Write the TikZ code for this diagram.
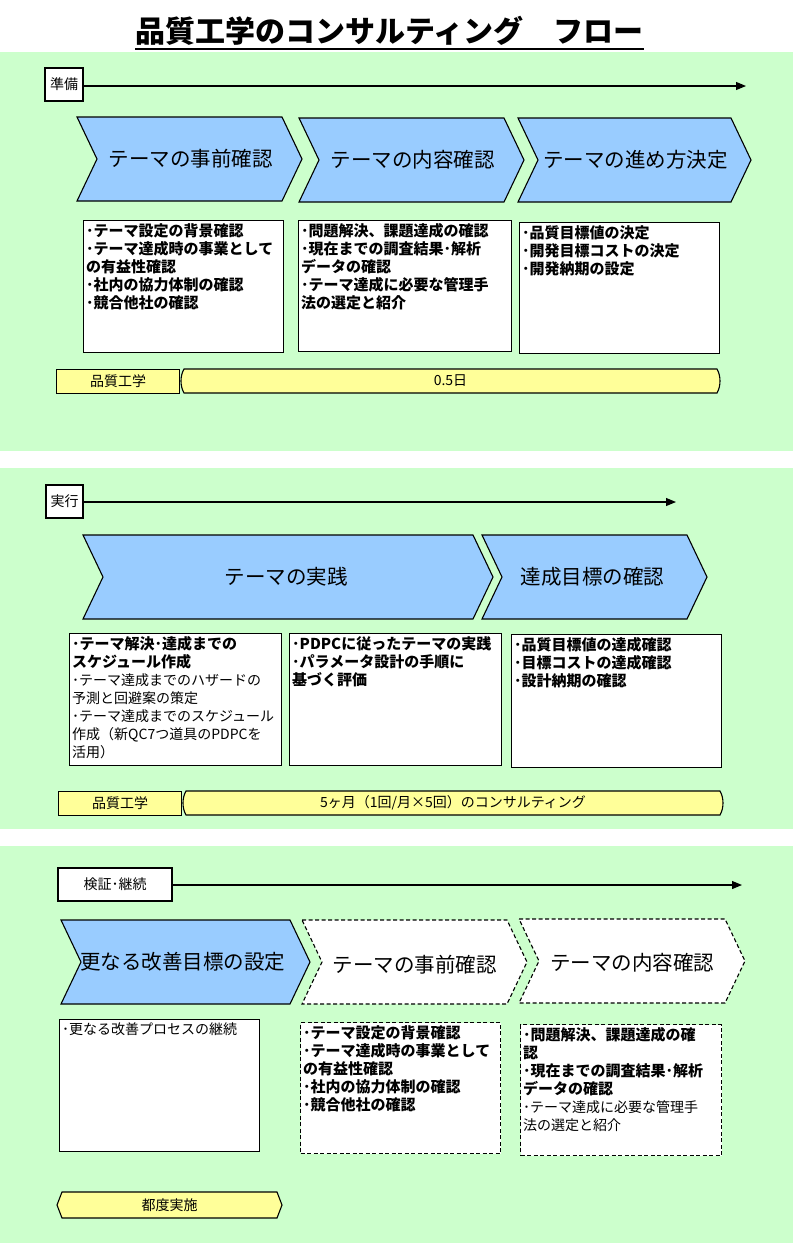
\documentclass[tikz,border=0pt]{standalone}
\usepackage{fontspec}
\setmainfont{Noto Sans CJK JP}
\usetikzlibrary{arrows.meta}
\definecolor{panelgreen}{HTML}{CCFFCC}
\definecolor{chevblue}{HTML}{99CCFF}
\definecolor{baryellow}{HTML}{FFFF99}
\tikzset{
 panel/.style={fill=panelgreen, draw=none},
 chevfill/.style={fill=chevblue, draw=black, line width=1.1pt, line join=miter},
 chevdash/.style={fill=white, draw=black, line width=1.1pt, dash pattern=on 4pt off 2.5pt},
 chevtext/.style={font=\fontsize{20.5}{24}\selectfont, inner sep=0},
 listbox/.style={draw=black, fill=white, line width=1.1pt, inner sep=0, anchor=north west},
 listdash/.style={listbox, dash pattern=on 4pt off 2.5pt},
 listtext/.style={anchor=north west, align=left, inner sep=0, font=\fontsize{15}{18}\selectfont},
 listbold/.style={listtext, font=\fontsize{15}{18}\selectfont\bfseries},
 tagbox/.style={draw=black, fill=white, line width=1.1pt, font=\fontsize{14}{16}\selectfont, inner sep=0},
 yellowbox/.style={draw=black, fill=baryellow, line width=1.1pt},
 bartext/.style={font=\fontsize{14}{16}\selectfont, inner sep=0},
 timeline/.style={line width=1.1pt, -{Triangle[length=10pt,width=8pt]}},
}
\newcommand{\chevshape}[6]{%
  \draw[#1] (#3,#5) -- ({#4-20},#5) -- (#4,{(#5+#6)/2}) -- ({#4-20},#6) -- (#3,#6) -- ({#3+20},{(#5+#6)/2}) -- cycle;
  \coordinate (#2) at ({(#3+#4)/2},{(#5+#6)/2});
}
\newcommand{\curvebar}[5]{%
  \draw[yellowbox] (#2,#4) -- (#3,#4) .. controls ({#3+4},{#4+7}) and ({#3+4},{#5-7}) .. (#3,#5) -- (#2,#5) .. controls ({#2-4},{#5-7}) and ({#2-4},{#4+7}) .. cycle;
  \coordinate (#1) at ({(#2+#3)/2},{(#4+#5)/2});
}
\newcommand{\hexbar}[5]{%
  \draw[yellowbox] ({#2+5},#4) -- ({#3-5},#4) -- (#3,{(#4+#5)/2}) -- ({#3-5},#5) -- ({#2+5},#5) -- (#2,{(#4+#5)/2}) -- cycle;
  \coordinate (#1) at ({(#2+#3)/2},{(#4+#5)/2});
}
\newcommand{\rg}[1]{{\mdseries\fontsize{14}{18}\selectfont #1}}
\begin{document}
\begin{tikzpicture}[x=1pt,y=-1pt]
\useasboundingbox (0,0) rectangle (793,1243);
\fill[white] (0,0) rectangle (793,1243);

% title
\node[font=\fontsize{30}{34}\selectfont\bfseries, inner sep=0] (title) at (389.5,31) {品質工学のコンサルティング　フロー};
\draw[line width=2pt] ([yshift=-3pt]title.south west) -- ([yshift=-3pt]title.south east);

% ================= panel 1
\fill[panel] (0,52) rectangle (793,451);
\node[tagbox, minimum width=38, minimum height=33] (junbi) at (64,84.5) {準備};
\coordinate (e1) at (746,86);
\draw[timeline] (junbi.east |- e1) -- (e1);

\chevshape{chevfill}{c11}{77}{302}{117}{201}
\chevshape{chevfill}{c12}{299}{524}{118}{202}
\chevshape{chevfill}{c13}{518}{751}{118}{202}
\node[chevtext] (c11t) at ([xshift=1pt]c11) {テーマの事前確認};
\node[chevtext] (c12t) at ([xshift=1pt]c12) {テーマの内容確認};
\node[chevtext] (c13t) at ([xshift=1pt]c13) {テーマの進め方決定};

\node[listbox, minimum width=200, minimum height=132] (b11) at (83,220) {};
\node[listbold] (t11) at ([xshift=3pt,yshift=-3pt]b11.north west)
 {･テーマ設定の背景確認\\･テーマ達成時の事業として\\の有益性確認\\･社内の協力体制の確認\\･競合他社の確認};
\node[listbox, minimum width=213, minimum height=131] (b12) at (298,220) {};
\node[listbold] (t12) at ([xshift=3pt,yshift=-3pt]b12.north west)
 {･問題解決、課題達成の確認\\･現在までの調査結果･解析\\データの確認\\･テーマ達成に必要な管理手\\法の選定と紹介};
\node[listbox, minimum width=200, minimum height=131] (b13) at (519,222) {};
\node[listbold] (t13) at ([xshift=3pt,yshift=-3pt]b13.north west)
 {･品質目標値の決定\\･開発目標コストの決定\\･開発納期の設定};

\node[yellowbox, minimum width=123, minimum height=24, inner sep=0, anchor=north west] (q1) at (56,369) {};
\node[bartext] (q1t) at (q1) {品質工学};
\curvebar{r1}{184}{717}{369}{393}
\node[bartext] (r1t) at (r1) {0.5日};

% ================= panel 2
\fill[panel] (0,468) rectangle (793,829);
\node[tagbox, minimum width=37, minimum height=33] (jikko) at (64.5,501.5) {実行};
\coordinate (e2) at (676,502);
\draw[timeline] (jikko.east |- e2) -- (e2);

\chevshape{chevfill}{c21}{83}{493}{535}{619}
\chevshape{chevfill}{c22}{482}{707}{535}{619}
\node[chevtext] (c21t) at ([xshift=-2pt]c21) {テーマの実践};
\node[chevtext] (c22t) at ([xshift=-2pt]c22) {達成目標の確認};

\node[listbox, minimum width=212, minimum height=132] (b21) at (69,633) {};
\node[listbold] (t21) at ([xshift=3pt,yshift=-3pt]b21.north west)
 {･テーマ解決･達成までの\\スケジュール作成\\\rg{･テーマ達成までのハザードの}\\\rg{予測と回避案の策定}\\\rg{･テーマ達成までのスケジュール}\\\rg{作成（新QC7つ道具のPDPCを}\\\rg{活用）}};
\node[listbox, minimum width=212, minimum height=132] (b22) at (289,633) {};
\node[listbold] (t22) at ([xshift=3pt,yshift=-3pt]b22.north west)
 {･PDPCに従ったテーマの実践\\･パラメータ設計の手順に\\基づく評価};
\node[listbox, minimum width=210, minimum height=133] (b23) at (511,634) {};
\node[listbold] (t23) at ([xshift=3pt,yshift=-3pt]b23.north west)
 {･品質目標値の達成確認\\･目標コストの達成確認\\･設計納期の確認};

\node[yellowbox, minimum width=123, minimum height=24, inner sep=0, anchor=north west] (q2) at (58,791) {};
\node[bartext] (q2t) at (q2) {品質工学};
\curvebar{r2}{186}{720}{791}{815}
\node[bartext] (r2t) at (r2) {5ヶ月（1回/月×5回）のコンサルティング};

% ================= panel 3
\fill[panel] (0,846) rectangle (793,1243);
\node[tagbox, minimum width=114, minimum height=33] (kensho) at (115,884.5) {検証･継続};
\coordinate (e3) at (742,885);
\draw[timeline] (kensho.east |- e3) -- (e3);

\chevshape{chevfill}{c31}{61}{310}{920}{1004}
\chevshape{chevdash}{c32}{302}{527}{920}{1004}
\chevshape{chevdash}{c33}{519}{745}{919}{1003}
\node[chevtext] (c31t) at ([xshift=-3pt]c31) {更なる改善目標の設定};
\node[chevtext] (c32t) at ([yshift=-3pt]c32) {テーマの事前確認};
\node[chevtext] (c33t) at ([yshift=-2pt]c33) {テーマの内容確認};

\node[listbox, minimum width=200, minimum height=132] (b31) at (59,1019) {};
\node[listtext] (t31) at ([xshift=3pt,yshift=-3pt]b31.north west)
 {\rg{･更なる改善プロセスの継続}};
\node[listdash, minimum width=200, minimum height=131] (b32) at (300,1022) {};
\node[listbold] (t32) at ([xshift=3pt,yshift=-3pt]b32.north west)
 {･テーマ設定の背景確認\\･テーマ達成時の事業として\\の有益性確認\\･社内の協力体制の確認\\･競合他社の確認};
\node[listdash, minimum width=201, minimum height=131] (b33) at (520,1024) {};
\node[listbold] (t33) at ([xshift=3pt,yshift=-3pt]b33.north west)
 {･問題解決、課題達成の確\\認\\･現在までの調査結果･解析\\データの確認\\\rg{･テーマ達成に必要な管理手}\\\rg{法の選定と紹介}};

\hexbar{r3}{57}{282}{1192}{1218}
\node[bartext] (r3t) at (r3) {都度実施};
\end{tikzpicture}
\end{document}
